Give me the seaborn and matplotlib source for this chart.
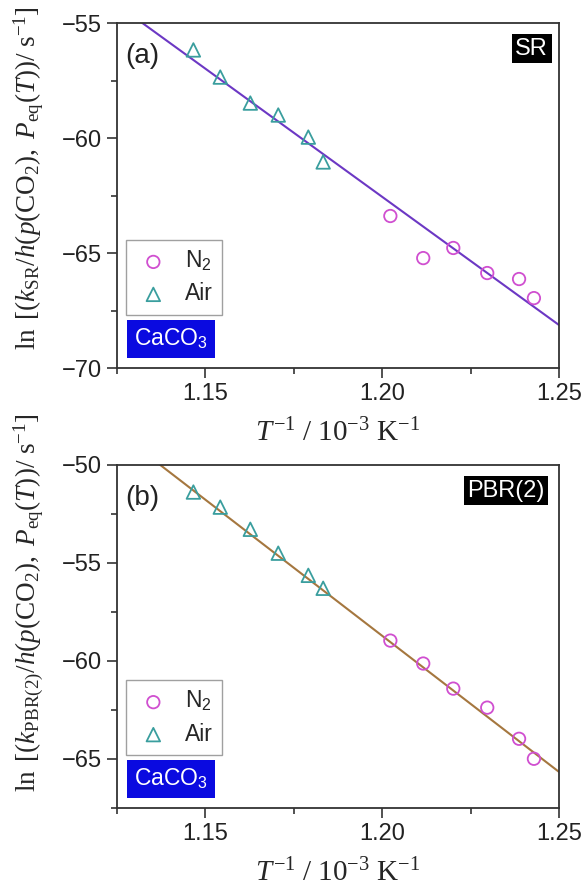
import numpy as np
import pandas as pd
import matplotlib
matplotlib.use("Agg")
import matplotlib.pyplot as plt
import seaborn as sns
from matplotlib.ticker import MultipleLocator

# ---------------- data ----------------
air_x = [1.1466, 1.1542, 1.1627, 1.1706, 1.1791, 1.1833]
n2_x = [1.2023, 1.2116, 1.2201, 1.2297, 1.2387, 1.2429]

sr_air_y = [-56.17, -57.35, -58.48, -59.00, -59.96, -61.04]
sr_n2_y = [-63.39, -65.22, -64.78, -65.87, -66.13, -66.96]
sr_fit_x = [1.125, 1.25]
sr_fit_y = [-54.2, -68.13]

pbr_air_y = [-51.38, -52.15, -53.28, -54.50, -55.63, -56.29]
pbr_n2_y = [-58.96, -60.13, -61.41, -62.38, -63.97, -64.99]
pbr_fit_x = [1.125, 1.25]
pbr_fit_y = [-48.3, -65.66]

xticks = [1.15, 1.20, 1.25]
xtick_labels = ["1.15", "1.20", "1.25"]
sr_yticks = [-55, -60, -65, -70]
pbr_yticks = [-50, -55, -60, -65]

legend_labels = [r"N$_\mathsf{2}$", "Air"]
panel_labels = ["(a)", "(b)"]
mech_labels = ["SR", "PBR(2)"]
sample_label = r"CaCO$_\mathsf{3}$"

# ---------------- style ----------------
sns.set_style("ticks")
plt.rcParams["font.family"] = ["Liberation Sans", "DejaVu Sans"]
plt.rcParams["mathtext.fontset"] = "custom"
plt.rcParams["mathtext.rm"] = "Liberation Serif"
plt.rcParams["mathtext.it"] = "Liberation Serif:italic"
plt.rcParams["mathtext.sf"] = "Liberation Sans"

c_n2 = "#d04fd0"
c_air = "#3a9e9e"
c_fit = ["#6c38c4", "#a5773f"]
edge = "#333333"

fig = plt.figure(figsize=(5.85, 8.92), dpi=100)
ax_a = fig.add_axes([0.2, 0.5874, 0.7556, 0.3868])
ax_b = fig.add_axes([0.2, 0.0942, 0.7556, 0.3845])

ylabels = [
    r"$\ln\ [(k_{\mathrm{SR}}/h(p(\mathrm{CO}_2),\ P_{\mathrm{eq}}(T))/\ \mathrm{s}^{-1}]$",
    r"$\ln\ [(k_{\mathrm{PBR(2)}}/h(p(\mathrm{CO}_2),\ P_{\mathrm{eq}}(T))/\ \mathrm{s}^{-1}]$",
]

panels = [
    (ax_a, sr_air_y, sr_n2_y, sr_fit_x, sr_fit_y, sr_yticks, (-70, -55), 0.55),
    (ax_b, pbr_air_y, pbr_n2_y, pbr_fit_x, pbr_fit_y, pbr_yticks, (-67.5, -50), 0.60),
]

for i, (ax, air_y, n2_y, fx, fy, yt, ylim, ylab_y) in enumerate(panels):
    sns.lineplot(x=fx, y=fy, ax=ax, color=c_fit[i], lw=1.5, zorder=2)
    sns.scatterplot(x=n2_x, y=n2_y, ax=ax, marker="o", s=80, color=c_n2,
                    facecolor="none", edgecolor=c_n2, linewidth=1.3,
                    label=legend_labels[0], zorder=3)
    sns.scatterplot(x=air_x, y=air_y, ax=ax, marker="^", s=95, color=c_air,
                    facecolor="none", edgecolor=c_air, linewidth=1.3,
                    label=legend_labels[1], zorder=3)
    ax.set_xlim(1.125, 1.25)
    ax.set_ylim(*ylim)
    ax.set_xticks(xticks)
    ax.set_xticklabels(xtick_labels)
    ax.set_yticks(yt)
    ax.set_yticklabels([f"\u2212{abs(v)}" for v in yt])
    ax.xaxis.set_minor_locator(MultipleLocator(0.025))
    ax.yaxis.set_minor_locator(MultipleLocator(2.5))
    ax.tick_params(which="major", direction="out", length=7, width=1.2,
                   labelsize=17, colors=edge, labelcolor="#222222", pad=4)
    ax.tick_params(which="minor", direction="out", length=4, width=1.2, colors=edge)
    ax.tick_params(top=False, right=False)
    for sp in ax.spines.values():
        sp.set_visible(True)
        sp.set_color(edge)
        sp.set_linewidth(1.3)
    ax.set_xlabel(r"$T^{-1}\ /\ 10^{-3}\ \mathrm{K}^{-1}$", fontsize=21, labelpad=10)
    ax.set_ylabel(ylabels[i], fontsize=19.5)
    ax.yaxis.set_label_coords(-0.16, ylab_y)

    leg = ax.legend(loc="lower left", bbox_to_anchor=(0.02, 0.155), fontsize=16.5,
                    frameon=True, fancybox=False, edgecolor="#888888",
                    handlelength=1.6, handletextpad=0.6, borderpad=0.4,
                    labelspacing=0.4, borderaxespad=0)
    leg.get_frame().set_linewidth(1.0)

    ax.text(0.018, 0.905, panel_labels[i], transform=ax.transAxes, fontsize=20,
            ha="left", va="center", color="#222222")
    ax.text(0.938 if i == 0 else 0.880, 0.925, mech_labels[i], transform=ax.transAxes,
            fontsize=17, ha="center", va="center", color="white",
            bbox=dict(boxstyle="square,pad=0.15", fc="black", ec="none"))
    ax.text(0.038, 0.085, sample_label, transform=ax.transAxes, fontsize=16.5,
            ha="left", va="center", color="white",
            bbox=dict(boxstyle="square,pad=0.3", fc="#0a0ae0", ec="none"))

fig.savefig("out.png", dpi=100)
